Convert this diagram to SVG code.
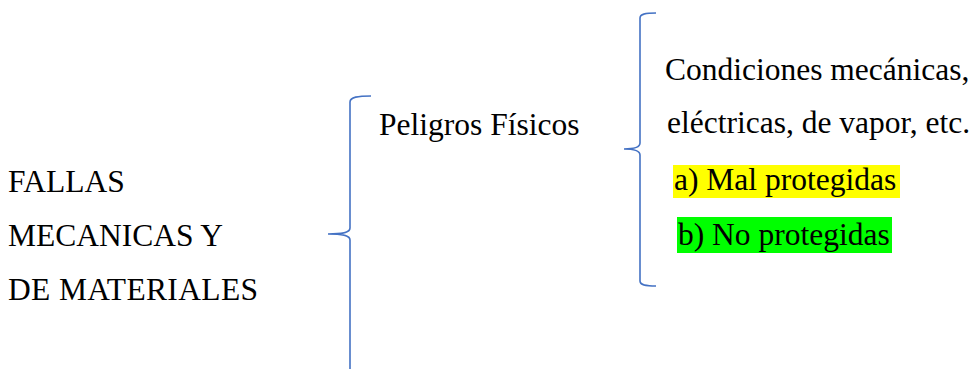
<svg xmlns="http://www.w3.org/2000/svg" width="979" height="369" viewBox="0 0 979 369">
<defs>
<style>.br{fill:none;stroke:#4472C4;stroke-width:1.6}</style>
</defs>
<rect width="979" height="369" fill="#fff"/>
<g id="connectors">
<path class="br" d="M371,96 C358,96 350,97 350,102 L350,228 C350,232 345,234 328,234 C345,234 350,236 350,240 L350,369"/>
<path class="br" d="M656,13 C645,13 640,14 640,18 L640,143 C640,147 636,149 624,149 C636,149 640,151 640,155 L640,281 C640,285 645,286 656,286"/>
</g>
<g id="fallas" font-family="Liberation Serif, Times New Roman, serif" font-size="31.5">
<text x="8" y="192">FALLAS</text>
<text x="8" y="246">MECANICAS Y</text>
<text x="8" y="300" textLength="250">DE MATERIALES</text>
</g>
<g id="peligros" font-family="Liberation Serif, Times New Roman, serif" font-size="31.5">
<text x="379" y="135">Peligros Físicos</text>
</g>
<g id="condiciones" font-family="Liberation Serif, Times New Roman, serif" font-size="31.5">
<text x="665" y="80">Condiciones mecánicas,</text>
<text x="667" y="133">eléctricas, de vapor, etc.</text>
</g>
<g id="mal" font-family="Liberation Serif, Times New Roman, serif" font-size="31.5">
<rect x="673" y="165" width="227" height="33" fill="#FFFF00"/>
<text x="674" y="190">a) Mal protegidas</text>
</g>
<g id="no" font-family="Liberation Serif, Times New Roman, serif" font-size="31.5">
<rect x="677" y="217" width="215" height="36" fill="#00FF00"/>
<text x="678" y="245">b) No protegidas</text>
</g>
</svg>
